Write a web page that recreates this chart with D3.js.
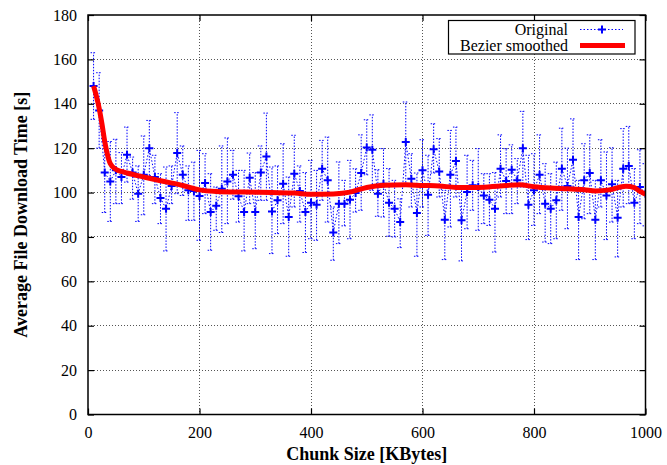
<!DOCTYPE html>
<html>
<head>
<meta charset="utf-8">
<script src="https://cdn.jsdelivr.net/npm/d3@7"></script>
<style>
	body { margin: 0; background: #fff; }
	svg text { font-family: "Liberation Serif", "Times New Roman", serif; }
</style>
</head>
<body>
<svg id="chart" width="667" height="465"></svg>
<script>
// chunk sizes in KBytes
var chunkSizes = [10, 20, 30, 40, 50, 60, 70, 80, 90, 100,
	110, 120, 130, 140, 150, 160, 170, 180, 190, 200,
	210, 220, 230, 240, 250, 260, 270, 280, 290, 300,
	310, 320, 330, 340, 350, 360, 370, 380, 390, 400,
	410, 420, 430, 440, 450, 460, 470, 480, 490, 500,
	510, 520, 530, 540, 550, 560, 570, 580, 590, 600,
	610, 620, 630, 640, 650, 660, 670, 680, 690, 700,
	710, 720, 730, 740, 750, 760, 770, 780, 790, 800,
	810, 820, 830, 840, 850, 860, 870, 880, 890, 900,
	910, 920, 930, 940, 950, 960, 970, 980, 990, 1000];

// average download time [s]
var avgTime = [148, 137, 109, 105, 110, 107, 117, 109, 99.5, 108,
	120, 107, 97.5, 92.7, 103, 117.8, 108, 101, 100.7, 98.4,
	104.3, 91.2, 94, 101.7, 105, 108, 98.3, 91.2, 106.7, 91.2,
	109, 116.3, 91.5, 96.5, 104, 89, 108.5, 100.7, 91.2, 95.4,
	94.5, 110.7, 105.5, 82, 95, 95, 96.8, 99.8, 108.8, 120.3,
	119.3, 99.5, 104, 95.4, 92.7, 86.7, 122.8, 106.2, 90.8, 110,
	99, 119.5, 109.5, 87.8, 108, 114.2, 87.5, 100.2, 103.3, 102.5,
	98.7, 96.8, 92.7, 110.7, 105.2, 110.3, 105.5, 120, 94.5, 101,
	108, 95, 92.7, 96.5, 110.7, 103, 114.8, 89, 105.5, 108.8,
	87.8, 105.5, 98.7, 103.7, 88.7, 110.7, 112, 95.4, 102.5, 99.5];

// error bar ends
var timeLow = [133, 120, 91, 87, 95, 95, 104.7, 97, 87, 90,
	107.7, 95, 86, 73.7, 95, 99.5, 98.7, 87.5, 87.5, 78.5,
	90.5, 74, 83, 82, 86, 97, 86.7, 73.7, 95, 74.7,
	96.5, 96.5, 72.5, 81.5, 86, 71.3, 93.5, 86.7, 73, 79.2,
	78.5, 96.5, 86.7, 69.5, 77, 85, 79.2, 91.2, 92, 108,
	101, 89.3, 89, 80.3, 80, 75.2, 103.2, 93.5, 71.3, 93.5,
	80.7, 108.8, 98, 69.8, 84.5, 98, 69.2, 83.7, 92, 83,
	86, 85.2, 73.2, 98, 90.5, 90.5, 95, 102.5, 78.8, 85.2,
	90.5, 77.7, 77, 79.2, 92, 83.7, 102.5, 69.8, 88.2, 90.5,
	69.8, 93.5, 78.8, 86.7, 71, 93.5, 95, 79.2, 86, 85];

var timeHigh = [163, 154, 123, 123, 124, 118, 129.5, 116, 112, 125.5,
	132.5, 116.8, 108.5, 111.5, 112, 136, 121, 112, 113.7, 119,
	117.5, 108.5, 102.5, 121, 124.6, 119, 110, 110, 117.8, 109,
	121, 135.8, 111.5, 112, 122, 107, 125.8, 112, 109, 114.5,
	110, 123.5, 125, 93.5, 113.8, 105.5, 114.5, 110.7, 126, 132.8,
	135, 110.3, 119.8, 110.8, 105.5, 97.2, 140.8, 117.5, 108.8, 123.8,
	116.8, 131, 124.3, 101, 128, 129.5, 102.5, 116.8, 114.5, 119.8,
	108.5, 108.5, 109, 126, 119.8, 121.5, 115.3, 136.6, 116.8, 117.5,
	126, 113, 108.5, 113.7, 129, 120, 133.2, 105.5, 122, 126,
	105.5, 123.8, 118.3, 120.2, 105.5, 128.8, 129.8, 110.8, 119.3, 113];

// bezier smoothed curve
var smoothX = [10, 20, 25, 30, 35, 40, 50, 60, 70, 100, 130, 170, 200, 230, 280, 330,
	370, 400, 440, 470, 500, 530, 570, 600, 630, 660, 700, 740, 775, 800,
	830, 860, 890, 910, 935, 965, 980, 990, 1000];
var smoothY = [148, 138, 131, 123, 117, 113, 110.5, 109.5, 108.8, 107, 105.3, 103.2, 101.2, 100.5, 100.2, 100,
	99.8, 99.2, 99.4, 100.2, 102.3, 103.3, 103.5, 103.2, 103, 102.3, 102.3, 103, 103.5, 102.6,
	102, 101.7, 101.3, 100.7, 101.2, 102.8, 102.2, 100.5, 99.2];

var xTicks = [0, 200, 400, 600, 800, 1000];
var yTicks = [0, 20, 40, 60, 80, 100, 120, 140, 160, 180];

var seriesNames = ["Original", "Bezier smoothed"];

var svg = d3.select("#chart")
	, plotLeft = 88, plotRight = 645.5, plotTop = 15, plotBottom = 414.5
	, tickLen = 6;

var x = d3.scaleLinear().domain([0, 1000]).range([plotLeft, plotRight]);
var y = d3.scaleLinear().domain([0, 180]).range([plotBottom, plotTop]);

var points = chunkSizes.map(function(c, i) {
	return {x: c, y: avgTime[i], lo: timeLow[i], hi: timeHigh[i]};
});

svg.append("defs").append("clipPath").attr("id", "plotClip")
	.append("rect")
	.attr("x", plotLeft).attr("y", plotTop)
	.attr("width", plotRight - plotLeft).attr("height", plotBottom - plotTop);

// --- GRID --- \\
var grid = svg.append("g").attr("class", "grid");
grid.selectAll(".gx").data(xTicks.slice(1, -1)).enter().append("line")
	.attr("x1", function(d) { return x(d); }).attr("x2", function(d) { return x(d); })
	.attr("y1", plotTop).attr("y2", plotBottom);
grid.selectAll(".gy").data(yTicks.slice(1, -1)).enter().append("line")
	.attr("y1", function(d) { return y(d); }).attr("y2", function(d) { return y(d); })
	.attr("x1", plotLeft).attr("x2", plotRight);
grid.selectAll("line")
	.attr("stroke", "#555").attr("stroke-width", 1)
	.attr("stroke-dasharray", "1,2")
	.attr("shape-rendering", "crispEdges");

// --- AXES --- \\
// gnuplot style: ticks inside, mirrored on all sides
svg.append("g").attr("transform", "translate(0," + plotBottom + ")")
	.call(d3.axisBottom(x).tickValues(xTicks).tickSize(-tickLen).tickPadding(12).tickFormat(d3.format("d")));
svg.append("g").attr("transform", "translate(0," + plotTop + ")")
	.call(d3.axisTop(x).tickValues(xTicks).tickSize(-tickLen).tickFormat(""));
svg.append("g").attr("transform", "translate(" + plotLeft + ",0)")
	.call(d3.axisLeft(y).tickValues(yTicks).tickSize(-tickLen).tickPadding(11).tickFormat(d3.format("d")));
svg.append("g").attr("transform", "translate(" + plotRight + ",0)")
	.call(d3.axisRight(y).tickValues(yTicks).tickSize(-tickLen).tickFormat(""));

svg.selectAll(".domain").remove();
svg.selectAll(".tick line").attr("stroke", "#000").attr("stroke-width", 1.2);
svg.selectAll(".tick text")
	.attr("font-size", "16px").attr("fill", "#000");

// --- ORIGINAL SERIES --- \\
var plot = svg.append("g").attr("clip-path", "url(#plotClip)");
var blue = "#0000ff";

plot.append("path").datum(points)
	.attr("fill", "none").attr("stroke", blue).attr("stroke-width", 1)
	.attr("stroke-dasharray", "1.5,2")
	.attr("d", d3.line().x(function(d) { return x(d.x); }).y(function(d) { return y(d.y); }));

var bars = plot.selectAll(".err").data(points).enter().append("g").attr("class", "err")
	.attr("stroke", blue).attr("stroke-width", 1).attr("stroke-dasharray", "1.5,1.5");
bars.append("line")
	.attr("x1", function(d) { return x(d.x); }).attr("x2", function(d) { return x(d.x); })
	.attr("y1", function(d) { return y(d.lo); }).attr("y2", function(d) { return y(d.hi); });
bars.append("line")
	.attr("x1", function(d) { return x(d.x) - 3; }).attr("x2", function(d) { return x(d.x) + 3; })
	.attr("y1", function(d) { return y(d.lo); }).attr("y2", function(d) { return y(d.lo); });
bars.append("line")
	.attr("x1", function(d) { return x(d.x) - 3; }).attr("x2", function(d) { return x(d.x) + 3; })
	.attr("y1", function(d) { return y(d.hi); }).attr("y2", function(d) { return y(d.hi); });

function plusPath(cx, cy, r) {
	return "M" + (cx - r) + "," + cy + "H" + (cx + r) + "M" + cx + "," + (cy - r) + "V" + (cy + r);
}
plot.selectAll(".pt").data(points).enter().append("path").attr("class", "pt")
	.attr("d", function(d) { return plusPath(x(d.x), y(d.y), 4); })
	.attr("stroke", blue).attr("stroke-width", 2).attr("fill", "none");

// --- SMOOTHED --- \\
var smooth = smoothX.map(function(v, i) { return [v, smoothY[i]]; });
plot.append("path").datum(smooth)
	.attr("fill", "none").attr("stroke", "#ff0000").attr("stroke-width", 5)
	.attr("stroke-linejoin", "round")
	.attr("d", d3.line().curve(d3.curveMonotoneX)
		.x(function(d) { return x(d[0]); }).y(function(d) { return y(d[1]); }));

// --- FRAME --- \\
svg.append("rect")
	.attr("x", plotLeft).attr("y", plotTop)
	.attr("width", plotRight - plotLeft).attr("height", plotBottom - plotTop)
	.attr("fill", "none").attr("stroke", "#000").attr("stroke-width", 1.5);

// --- LEGEND --- \\
var legend = svg.append("g");
legend.append("rect")
	.attr("x", 448.5).attr("y", 20.5).attr("width", 186.5).attr("height", 33.5)
	.attr("fill", "#fff").attr("stroke", "#000").attr("stroke-width", 1.2);
legend.selectAll("text").data(seriesNames).enter().append("text")
	.attr("x", 568).attr("y", function(d, i) { return 35 + i * 16; })
	.attr("text-anchor", "end").attr("font-size", "16px")
	.text(function(d) { return d; });
legend.append("line")
	.attr("x1", 580).attr("x2", 623).attr("y1", 29.5).attr("y2", 29.5)
	.attr("stroke", blue).attr("stroke-width", 1).attr("stroke-dasharray", "1.5,2");
legend.append("path")
	.attr("d", plusPath(602, 29.5, 4))
	.attr("stroke", blue).attr("stroke-width", 2).attr("fill", "none");
legend.append("line")
	.attr("x1", 580).attr("x2", 625).attr("y1", 45.5).attr("y2", 45.5)
	.attr("stroke", "#ff0000").attr("stroke-width", 5);

// --- TITLES --- \\
svg.append("text")
	.attr("x", (plotLeft + plotRight) / 2).attr("y", 460)
	.attr("text-anchor", "middle").attr("font-size", "18px").attr("font-weight", "bold")
	.text("Chunk Size [KBytes]");
svg.append("text")
	.attr("transform", "translate(27," + ((plotTop + plotBottom) / 2) + ") rotate(-90)")
	.attr("text-anchor", "middle").attr("font-size", "18px").attr("font-weight", "bold")
	.text("Average File Download Time [s]");
</script>
</body>
</html>
